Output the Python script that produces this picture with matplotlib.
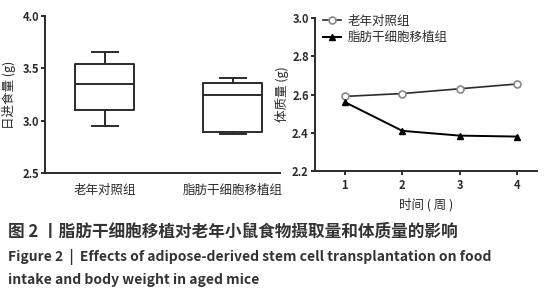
import matplotlib
matplotlib.use("Agg")
import matplotlib.pyplot as plt

plt.rcParams['font.family'] = ['Noto Sans CJK SC', 'DejaVu Sans']

# Left panel: box plot data (daily food intake, g)
groups = ["老年对照组", "脂肪干细胞移植组"]
whislo = [2.95, 2.87]
q1 = [3.10, 2.89]
med = [3.35, 3.25]
q3 = [3.54, 3.36]
whishi = [3.66, 3.41]

# Right panel: body weight over weeks
weeks = [1, 2, 3, 4]
control = [2.59, 2.605, 2.63, 2.655]
treated = [2.56, 2.41, 2.385, 2.38]
series_labels = ["老年对照组", "脂肪干细胞移植组"]

fig = plt.figure(figsize=(5.46, 3.0), dpi=100)
dark = "#2b2b2b"
lw = 1.4
tick_fs = 8
lab_fs = 9

# ---- Left
ax1 = fig.add_axes([0.082, 0.423, 0.431, 0.524])
stats = []
for i in range(len(groups)):
    stats.append(dict(med=med[i], q1=q1[i], q3=q3[i], whislo=whislo[i], whishi=whishi[i], fliers=[]))
ax1.bxp(stats, positions=[1, 2], widths=0.46, capwidths=0.2, showfliers=False,
        boxprops=dict(color=dark, linewidth=lw),
        medianprops=dict(color=dark, linewidth=lw),
        whiskerprops=dict(color=dark, linewidth=lw),
        capprops=dict(color=dark, linewidth=lw))
ax1.set_xlim(0.53, 2.37)
ax1.set_ylim(2.5, 4.0)
ax1.set_yticks([2.5, 3.0, 3.5, 4.0])
ax1.set_yticklabels(["2.5", "3.0", "3.5", "4.0"], fontweight='bold')
ax1.set_xticks([1, 2])
ax1.set_xticklabels(groups, fontsize=lab_fs, fontweight='medium')
ax1.tick_params(axis='x', length=0, pad=8, colors=dark)
ax1.tick_params(axis='y', length=3, width=lw, pad=1, labelsize=tick_fs, colors=dark)
for s in ["top", "right"]:
    ax1.spines[s].set_visible(False)
for s in ["left", "bottom"]:
    ax1.spines[s].set_linewidth(lw)
    ax1.spines[s].set_color(dark)
ax1.set_ylabel("日进食量 (g)", fontsize=lab_fs, color=dark, labelpad=5, fontweight='medium')

# ---- Right
ax2 = fig.add_axes([0.577, 0.43, 0.407, 0.51])
ax2.plot(weeks, control, color=dark, linewidth=1.2, marker='o', markersize=5,
         markerfacecolor='white', markeredgecolor='#888888', markeredgewidth=1.2,
         label=series_labels[0])
ax2.plot(weeks, treated, color='black', linewidth=1.4, marker='^', markersize=5,
         markerfacecolor='black', markeredgecolor='black', label=series_labels[1])
ax2.set_xlim(0.48, 4.35)
ax2.set_ylim(2.2, 3.0)
ax2.set_xticks(weeks)
ax2.set_xticklabels([str(w) for w in weeks], fontweight='bold')
ax2.set_yticks([2.2, 2.4, 2.6, 2.8, 3.0])
ax2.set_yticklabels(["2.2", "2.4", "2.6", "2.8", "3.0"], fontweight='bold')
ax2.tick_params(axis='both', length=3, width=lw, pad=1.5, labelsize=tick_fs, colors=dark)
ax2.tick_params(axis='x', pad=3)
for s in ["top", "right"]:
    ax2.spines[s].set_visible(False)
for s in ["left", "bottom"]:
    ax2.spines[s].set_linewidth(lw)
    ax2.spines[s].set_color(dark)
ax2.set_ylabel("体质量 (g)", fontsize=lab_fs, color=dark, labelpad=2, fontweight='medium')
ax2.set_xlabel("时间 ( 周 )", fontsize=lab_fs, color=dark, labelpad=4, fontweight='medium')
leg = ax2.legend(loc='upper left', bbox_to_anchor=(0.0, 1.07), frameon=False,
                 prop=dict(size=lab_fs, weight='medium'), handlelength=1.5,
                 handletextpad=0.5, labelspacing=0.25, borderaxespad=0.2)
for t in leg.get_texts():
    t.set_color(dark)

# ---- Caption
cap = "#333333"
fig.text(0.015, 1 - 232 / 300, "图 2 丨脂肪干细胞移植对老年小鼠食物摄取量和体质量的影响",
         fontsize=12, color=cap, va='center', ha='left', fontweight='bold')
fig.text(0.015, 1 - 257 / 300, "Figure 2  |  Effects of adipose-derived stem cell transplantation on food",
         fontsize=10, color=cap, va='center', ha='left', fontweight='bold')
fig.text(0.015, 1 - 280 / 300, "intake and body weight in aged mice",
         fontsize=10, color=cap, va='center', ha='left', fontweight='bold')

fig.savefig("out.png", dpi=100)
